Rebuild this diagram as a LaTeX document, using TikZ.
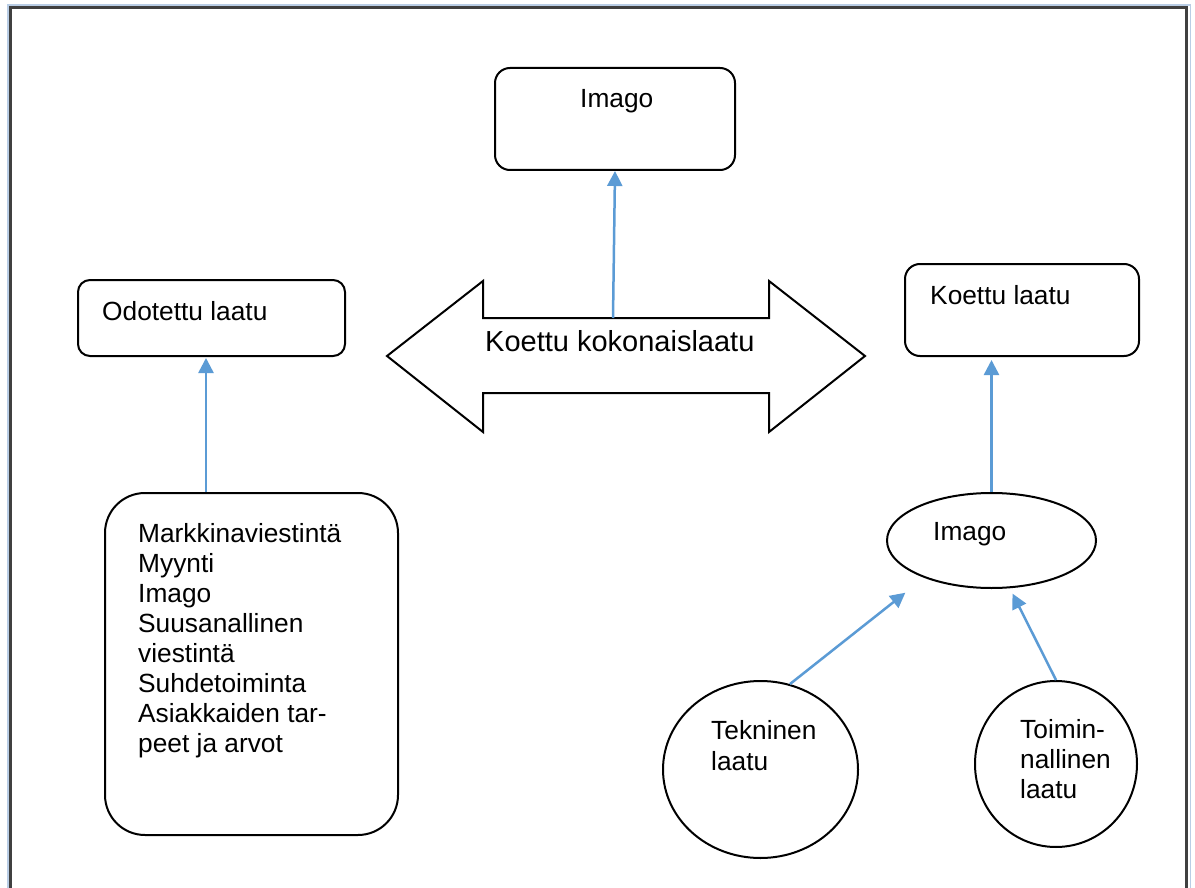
\documentclass[tikz,border=0pt]{standalone}
\usepackage{fontspec}
\setmainfont{Liberation Sans}
\usetikzlibrary{shapes.geometric,arrows.meta}
\definecolor{arrowblue}{HTML}{5B9BD5}
\definecolor{framedark}{HTML}{404040}
\definecolor{framelight}{HTML}{B9CDE5}
\begin{document}
\begin{tikzpicture}[x=1pt,y=-1pt,
  box/.style={draw=black, line width=2pt, rounded corners=#1, inner sep=0pt, minimum width=10pt},
  oval/.style={draw=black, line width=2pt, ellipse, inner sep=0pt},
  conn/.style={draw=arrowblue, line width=2.5pt, -{Triangle[length=15pt,width=15pt]}},
  txt/.style={anchor=base west, inner sep=0pt, font=\fontsize{26.3}{30}\selectfont, align=left},
  bigtxt/.style={anchor=base west, inner sep=0pt, font=\fontsize{29}{33}\selectfont}]
\useasboundingbox (0,0) rectangle (1195,888);
\fill[white] (0,0) rectangle (1195,888);
% frame
\draw[framelight, line width=1.5pt] (8,900) -- (8,5) -- (1190.5,5) -- (1190.5,900);
\draw[framedark, line width=3pt] (10.5,900) -- (10.5,7.5) -- (1186.5,7.5) -- (1186.5,900);
% boxes
\node[box=15pt, minimum width=240pt, minimum height=102pt] (im1) at (615,119) {};
\node[box=12pt, minimum width=267pt, minimum height=76pt] (od) at (211.5,318) {};
\node[box=15pt, minimum width=234pt, minimum height=92pt] (kl) at (1022,310) {};
\node[box=40pt, minimum width=293pt, minimum height=342pt] (big) at (251.5,664) {};
\node[oval, minimum width=209pt, minimum height=95pt] (img2) at (991.5,540.5) {};
\node[oval, minimum width=195pt, minimum height=177pt] (tek) at (760.5,769.5) {};
\node[oval, minimum width=162pt, minimum height=166pt] (toim) at (1056,764) {};
% double arrow
\draw[black, line width=2pt, line join=miter] (387,356) -- (483,281) -- (483,318) -- (769,318) -- (769,281) -- (865,356) -- (769,432) -- (769,393) -- (483,393) -- (483,432) -- cycle;
\coordinate (dtop) at (613,318);
% texts (multi-line nodes: base = last line)
\node[txt] (t-im1) at (580,108) {Imago};
\node[txt] (t-od) at (102,320) {Odotettu laatu};
\node[txt] (t-kl) at (930,304) {Koettu laatu};
\node[bigtxt] (t-ka) at (485,351) {Koettu kokonaislaatu};
\node[txt] (t-big) at (138,752) {Markkinaviestintä\\Myynti\\Imago\\Suusanallinen\\viestintä\\Suhdetoiminta\\Asiakkaiden tar-\\peet ja arvot};
\node[txt] (t-img2) at (933,540) {Imago};
\node[txt, font=\fontsize{26.3}{31}\selectfont] (t-tek) at (711,770) {Tekninen\\laatu};
\node[txt] (t-toim) at (1020,798) {Toimin-\\nallinen\\laatu};
% connectors
\draw[conn, shorten >=1pt] ([xshift=-5.5pt]od.south |- big.north) -- ([xshift=-5.5pt]od.south);
\draw[conn] (dtop) -- (im1.south);
\draw[conn, shorten >=3pt] (img2.north) -- (img2.north |- kl.south);
\draw[conn, shorten >=24pt] (tek.71) -- (img2.209);
\draw[conn, shorten >=6pt] (toim.north) -- (img2.291);
\end{tikzpicture}
\end{document}
